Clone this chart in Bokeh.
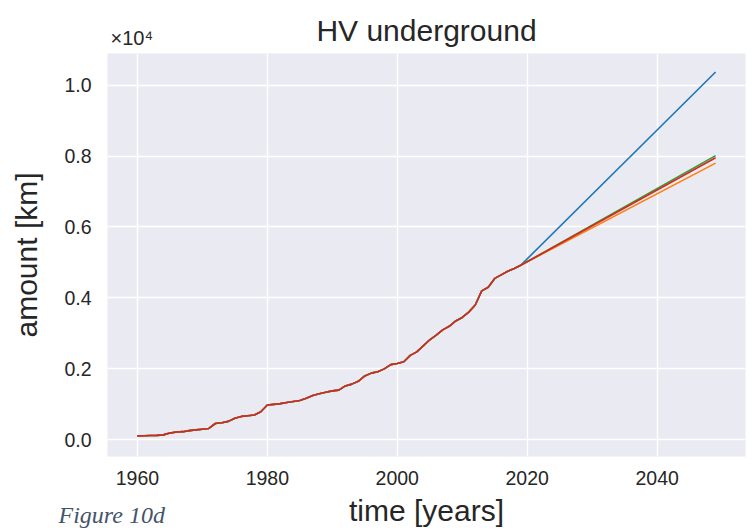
from bokeh.plotting import figure
from bokeh.models import Range1d, FixedTicker, Title
from bokeh.embed import file_html
from bokeh.resources import INLINE

# ---- data ----
hist_years = list(range(1960, 2020))
hist_values = [110, 115, 120, 125, 140, 190, 220, 230, 260, 280,
               300, 320, 460, 480, 520, 610, 660, 680, 700, 790,
               980, 1000, 1020, 1050, 1080, 1110, 1170, 1250, 1300, 1340,
               1380, 1400, 1520, 1570, 1650, 1800, 1880, 1920, 2000, 2120,
               2150, 2200, 2380, 2480, 2650, 2820, 2950, 3100, 3200, 3350,
               3450, 3600, 3800, 4200, 4300, 4550, 4650, 4750, 4830, 4920]
end_year = 2049
series_names = ["blue", "orange", "green", "red"]
series_end_values = [10370, 7800, 8010, 7950]
series_colors = ["#1f77b4", "#ff7f0e", "#2ca02c", "#d62728"]

x_ticks = [1960, 1980, 2000, 2020, 2040]
y_ticks = [0, 2000, 4000, 6000, 8000, 10000]
y_tick_labels = ["0.0", "0.2", "0.4", "0.6", "0.8", "1.0"]

FONT = "Liberation Sans"
TXT = "#262626"

p = figure(width=754, height=529, output_backend="svg", toolbar_location=None,
           title=None,
           x_range=Range1d(1955.4, 2053.6), y_range=Range1d(-470, 10890),
           min_border_left=107, min_border_right=9, min_border_top=53, min_border_bottom=73)

p.background_fill_color = "#EAEAF2"
p.border_fill_color = "white"
p.outline_line_color = None

for ax in (p.xaxis[0], p.yaxis[0]):
    ax.axis_line_color = None
    ax.major_tick_line_color = None
    ax.minor_tick_line_color = None
    ax.major_tick_out = 0
    ax.minor_tick_out = 0
    ax.major_label_text_font = FONT
    ax.major_label_text_font_size = "19.5px"
    ax.major_label_text_color = TXT
    ax.axis_label_text_font = FONT
    ax.axis_label_text_font_size = "30px"
    ax.axis_label_text_font_style = "normal"
    ax.axis_label_text_color = TXT

p.xaxis[0].ticker = FixedTicker(ticks=x_ticks)
p.yaxis[0].ticker = FixedTicker(ticks=y_ticks)
p.yaxis[0].major_label_overrides = {t: l for t, l in zip(y_ticks, y_tick_labels)}
p.xaxis[0].axis_label = "time [years]"
p.yaxis[0].axis_label = "amount [km]"
p.xaxis[0].major_label_standoff = 14
p.xaxis[0].axis_label_standoff = 6
p.yaxis[0].major_label_standoff = 16
p.yaxis[0].axis_label_standoff = 18

for g in (p.xgrid[0], p.ygrid[0]):
    g.grid_line_color = "white"
    g.grid_line_width = 1.4
p.xgrid[0].ticker = FixedTicker(ticks=x_ticks)
p.ygrid[0].ticker = FixedTicker(ticks=y_ticks)

for name, endv, col in zip(series_names, series_end_values, series_colors):
    xs = hist_years + [end_year]
    ys = hist_values + [endv]
    p.line(xs, ys, line_color=col, line_width=1.6)

# offset multiplier text (inner, next to the frame)
p.add_layout(Title(text="×10⁴", align="left", offset=3, standoff=9,
                   text_font=FONT, text_font_size="20px", text_font_style="normal",
                   text_color=TXT), "above")
# main title (outer, overlapping the same band)
p.add_layout(Title(text="HV underground", align="center", standoff=-53.8,
                   text_font=FONT, text_font_size="30px", text_font_style="normal",
                   text_color=TXT), "above")
# caption at the bottom-left
p.add_layout(Title(text="Figure 10d", align="left", offset=-49, standoff=-55,
                   vertical_align="top",
                   text_font="Liberation Serif", text_font_style="italic",
                   text_font_size="24px", text_color="#44546A"), "below")

open("out.html", "w").write(file_html(p, INLINE))
